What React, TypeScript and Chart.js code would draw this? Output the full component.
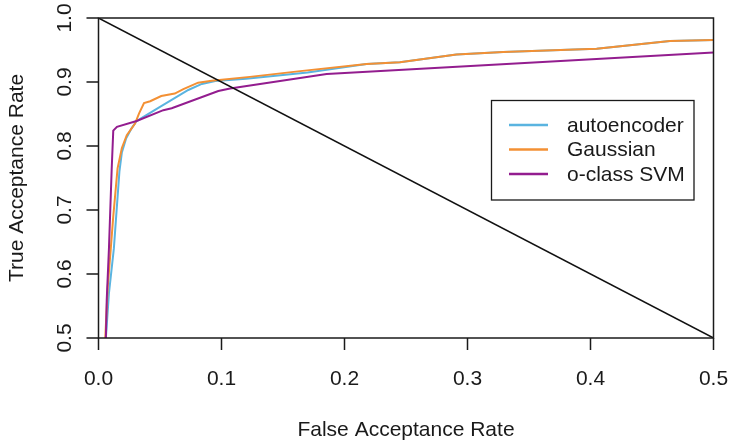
import React, { useEffect, useRef } from "react";
import { Chart, registerables } from "chart.js";

Chart.register(...registerables);

// ---- data ----
const seriesNames = ["autoencoder", "Gaussian", "o-class SVM"];
const seriesColors = ["#5AB4E0", "#F39034", "#931D8F"];

const autoencoderFAR = [0.006, 0.0085, 0.0125, 0.017, 0.019, 0.0225, 0.027, 0.031, 0.05, 0.073, 0.084, 0.095, 0.12, 0.17, 0.218, 0.245, 0.291, 0.329, 0.405, 0.4646, 0.5];
const autoencoderTAR = [0.5, 0.57, 0.64, 0.76, 0.79, 0.812, 0.828, 0.839, 0.861, 0.8875, 0.897, 0.9015, 0.905, 0.915, 0.928, 0.931, 0.943, 0.947, 0.952, 0.964, 0.9656];

const gaussianFAR = [0.0055, 0.0075, 0.0099, 0.012, 0.0155, 0.019, 0.023, 0.0297, 0.033, 0.037, 0.042, 0.051, 0.062, 0.069, 0.081, 0.092, 0.123, 0.164, 0.218, 0.245, 0.291, 0.329, 0.405, 0.4646, 0.5];
const gaussianTAR = [0.5, 0.58, 0.6375, 0.69, 0.765, 0.797, 0.817, 0.835, 0.851, 0.867, 0.87, 0.878, 0.882, 0.889, 0.899, 0.902, 0.908, 0.917, 0.928, 0.931, 0.943, 0.947, 0.952, 0.964, 0.9656];

const svmFAR = [0.006, 0.0067, 0.0085, 0.0107, 0.012, 0.015, 0.031, 0.0527, 0.0595, 0.0974, 0.107, 0.1855, 0.5];
const svmTAR = [0.5, 0.56, 0.64, 0.7625, 0.824, 0.83, 0.839, 0.856, 0.859, 0.886, 0.89, 0.9125, 0.946];

const chanceFAR = [0, 0.5];
const chanceTAR = [1.0, 0.5];

const xTicks = [0, 0.1, 0.2, 0.3, 0.4, 0.5];
const xTickLabels = ["0.0", "0.1", "0.2", "0.3", "0.4", "0.5"];
const yTicks = [0.5, 0.6, 0.7, 0.8, 0.9, 1.0];
const yTickLabels = ["0.5", "0.6", "0.7", "0.8", "0.9", "1.0"];

const xTitle = "False Acceptance Rate";
const yTitle = "True Acceptance Rate";

const FONT = '21px "Liberation Sans", Arial, Helvetica, sans-serif';
const INK = "#1a1a1a";

const toPoints = (xs: number[], ys: number[]) => xs.map((x, i) => ({ x, y: ys[i] }));

const rStylePlugin = {
  id: "rStyle",
  afterDraw(chart: any) {
    const ctx = chart.ctx as CanvasRenderingContext2D;
    const { left, right, top, bottom } = chart.chartArea;
    const xs = chart.scales.x;
    const ys = chart.scales.y;
    ctx.save();
    ctx.strokeStyle = INK;
    ctx.fillStyle = INK;
    ctx.lineWidth = 1.5;
    // box
    ctx.strokeRect(left, top, right - left, bottom - top);
    // x ticks
    ctx.beginPath();
    xTicks.forEach((v) => {
      const px = xs.getPixelForValue(v);
      ctx.moveTo(px, bottom);
      ctx.lineTo(px, bottom + 12);
    });
    yTicks.forEach((v) => {
      const py = ys.getPixelForValue(v);
      ctx.moveTo(left, py);
      ctx.lineTo(left - 12, py);
    });
    ctx.stroke();
    ctx.font = FONT;
    ctx.textAlign = "center";
    ctx.textBaseline = "alphabetic";
    xTicks.forEach((v, i) => {
      ctx.fillText(xTickLabels[i], xs.getPixelForValue(v), bottom + 46.5);
    });
    ctx.fillText(xTitle, (left + right) / 2, bottom + 98);
    yTicks.forEach((v, i) => {
      ctx.save();
      ctx.translate(left - 28, ys.getPixelForValue(v));
      ctx.rotate(-Math.PI / 2);
      ctx.fillText(yTickLabels[i], 0, 0);
      ctx.restore();
    });
    ctx.save();
    ctx.translate(left - 76, (top + bottom) / 2);
    ctx.rotate(-Math.PI / 2);
    ctx.fillText(yTitle, 0, 0);
    ctx.restore();

    // legend
    const lx = 491.5, ly = 100.5, lw = 202.5, lh = 99.5;
    ctx.fillStyle = "#ffffff";
    ctx.fillRect(lx, ly, lw, lh);
    ctx.strokeStyle = INK;
    ctx.lineWidth = 1.3;
    ctx.strokeRect(lx, ly, lw, lh);
    ctx.textAlign = "left";
    ctx.textBaseline = "middle";
    seriesNames.forEach((name, i) => {
      const cy = ly + 24.5 + i * 24.5;
      ctx.strokeStyle = seriesColors[i];
      ctx.lineWidth = 2.5;
      ctx.beginPath();
      ctx.moveTo(lx + 17.5, cy);
      ctx.lineTo(lx + 56.5, cy);
      ctx.stroke();
      ctx.fillStyle = INK;
      ctx.fillText(name, lx + 75.5, cy + 1);
    });
    ctx.restore();
  },
};

export default function App() {
  const ref = useRef<HTMLCanvasElement | null>(null);
  useEffect(() => {
    if (!ref.current) return;
    const chart = new Chart(ref.current, {
      type: "scatter",
      data: {
        datasets: [
          {
            label: seriesNames[0],
            data: toPoints(autoencoderFAR, autoencoderTAR),
            borderColor: seriesColors[0],
            borderWidth: 2,
            showLine: true,
            pointRadius: 0,
            order: 4,
          },
          {
            label: seriesNames[1],
            data: toPoints(gaussianFAR, gaussianTAR),
            borderColor: seriesColors[1],
            borderWidth: 2,
            showLine: true,
            pointRadius: 0,
            order: 3,
          },
          {
            label: seriesNames[2],
            data: toPoints(svmFAR, svmTAR),
            borderColor: seriesColors[2],
            borderWidth: 2,
            showLine: true,
            pointRadius: 0,
            order: 2,
          },
          {
            label: "chance",
            data: toPoints(chanceFAR, chanceTAR),
            borderColor: "#111111",
            borderWidth: 1.5,
            showLine: true,
            pointRadius: 0,
            order: 1,
          },
        ],
      },
      options: {
        animation: false,
        responsive: false,
        devicePixelRatio: 1,
        layout: { padding: { left: 98.5, right: 15.5, top: 18, bottom: 103 } },
        scales: {
          x: { type: "linear", min: 0, max: 0.5, display: false },
          y: { type: "linear", min: 0.5, max: 1.0, display: false },
        },
        plugins: {
          legend: { display: false },
          tooltip: { enabled: false },
        },
        elements: { line: { tension: 0 } },
      },
      plugins: [rStylePlugin],
    });
    return () => chart.destroy();
  }, []);
  return (
    <div style={{ position: "absolute", left: 0, top: 0, width: 729, height: 441, background: "#fff" }}>
      <canvas ref={ref} width={729} height={441} style={{ display: "block" }} />
    </div>
  );
}
